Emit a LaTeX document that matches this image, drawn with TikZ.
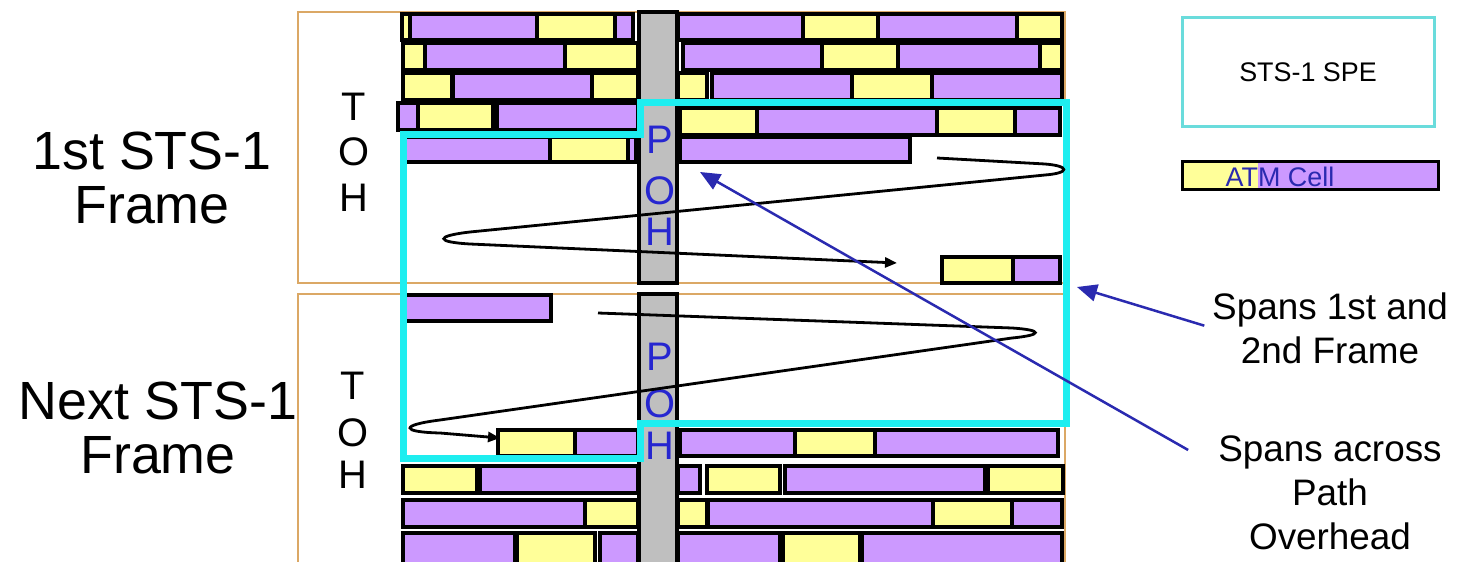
\documentclass[tikz,border=0pt]{standalone}
\usepackage{fontspec}
\setmainfont{Liberation Sans}
\usetikzlibrary{arrows.meta}

\definecolor{roxo}{HTML}{CC99FF}
\definecolor{amarelo}{HTML}{FFFF99}
\definecolor{moldura}{HTML}{DBA865}
\definecolor{ciano}{HTML}{1EEEF0}
\definecolor{cianoleg}{HTML}{6ADCDC}
\definecolor{azul}{HTML}{2A2AB0}
\definecolor{azulpoh}{HTML}{2626D0}
\definecolor{cinza}{HTML}{BFBFBF}

\begin{document}
\begin{tikzpicture}[x=1bp, y=-1bp,
  celula/.style={draw=black, line width=3.5bp},
  letra/.style={font=\fontsize{40}{40}\selectfont, inner sep=0pt},
  rotulo/.style={font=\fontsize{54}{55}\selectfont, align=center, inner sep=0pt},
  nota/.style={font=\fontsize{37}{44}\selectfont, align=center, inner sep=0pt},
  zigue/.style={line width=2.8bp, -{Triangle[length=12bp,width=10bp]}},
  chamada/.style={azul, line width=2.5bp, -{Triangle[length=20bp,width=17bp]}}]

\fill[white] (0,0) rectangle (1459,562);
\useasboundingbox (0,0) rectangle (1459,562);

% Quadros STS-1
\draw[moldura, line width=2bp] (298,12) rectangle (1065,283);
\draw[moldura, line width=2bp] (298,294) rectangle (1065,575);

% Celulas ATM, linha a linha (primeiro quadro)
\foreach \a/\b/\c in {402/410/amarelo, 410/537/roxo, 537/615/amarelo, 615/633/roxo,
                      678/803/roxo, 803/878/amarelo, 878/1017/roxo, 1017/1062/amarelo}
  \draw[celula, fill=\c] (\a,14) rectangle (\b,40);
\foreach \a/\b/\c in {403/425/amarelo, 425/565/roxo, 565/638/amarelo,
                      683/822/roxo, 822/898/amarelo, 898/1040/roxo, 1040/1062/amarelo}
  \draw[celula, fill=\c] (\a,43) rectangle (\b,70);
\foreach \a/\b/\c in {403/452/amarelo, 453/592/roxo, 592/638/amarelo,
                      678/707/amarelo, 712/852/roxo, 852/932/amarelo, 932/1062/roxo}
  \draw[celula, fill=\c] (\a,73) rectangle (\b,100);
\foreach \a/\b/\c in {398/418/roxo, 418/493/amarelo, 497/638/roxo}
  \draw[celula, fill=\c] (\a,103) rectangle (\b,130);
\foreach \a/\b/\c in {680/757/amarelo, 757/937/roxo, 937/1015/amarelo, 1015/1060/roxo}
  \draw[celula, fill=\c] (\a,108) rectangle (\b,135);
\foreach \a/\b/\c in {405/550/roxo, 550/628/amarelo, 628/636/roxo, 680/910/roxo}
  \draw[celula, fill=\c] (\a,137) rectangle (\b,162);
\foreach \a/\b/\c in {942/1013/amarelo, 1013/1060/roxo}
  \draw[celula, fill=\c] (\a,257) rectangle (\b,283);

% Celulas ATM (quadro seguinte)
\draw[celula, fill=roxo] (405,295) rectangle (551,321);
\foreach \a/\b/\c in {498/575/amarelo, 575/638/roxo,
                      680/795/roxo, 795/875/amarelo, 875/1058/roxo}
  \draw[celula, fill=\c] (\a,430) rectangle (\b,456);
\foreach \a/\b/\c in {403/477/amarelo, 480/638/roxo,
                      678/700/roxo, 707/780/amarelo, 785/985/roxo, 988/1063/amarelo}
  \draw[celula, fill=\c] (\a,466) rectangle (\b,493);
\foreach \a/\b/\c in {403/585/roxo, 585/638/amarelo,
                      678/707/amarelo, 708/933/roxo, 933/1012/amarelo, 1012/1062/roxo}
  \draw[celula, fill=\c] (\a,500) rectangle (\b,527);
\foreach \a/\b/\c in {403/515/roxo, 517/595/amarelo, 600/638/roxo,
                      678/780/roxo, 783/860/amarelo, 862/1062/roxo}
  \draw[celula, fill=\c] (\a,533) rectangle (\b,575);

% Coluna POH
\draw[celula, fill=cinza] (639,12) rectangle (677,283);
\draw[celula, fill=cinza] (639,294) rectangle (677,575);

% Letras TOH e POH
\foreach \t/\y in {T/107, O/152, H/198}
  \node[letra] (toha\t) at (354,\y) {\t};
\foreach \t/\y in {T/386, O/433, H/475}
  \node[letra] (tohb\t) at (353,\y) {\t};
\foreach \t/\y in {P/140, O/191, H/232}
  \node[letra, azulpoh] (poha\t) at (660,\y) {\t};
\foreach \t/\y in {P/357, O/404, H/446}
  \node[letra, azulpoh] (pohb\t) at (660,\y) {\t};

% SPE
\draw[ciano, line width=7bp, line join=miter]
  (403,135) -- (640,135) -- (640,103) -- (1066,103) -- (1066,423)
  -- (640,423) -- (640,458) -- (403,458) -- cycle;

% Percurso das celulas
\coordinate (ini1) at (937,158);
\coordinate (fim1) at (897,263);
\draw[zigue] (ini1) -- (1045,164) .. controls (1070,166) and (1070,173) .. (1045,175)
  -- (470,232) .. controls (435,236) and (435,242) .. (470,244) -- (fim1);
\coordinate (ini2) at (598,313);
\coordinate (fim2) at (500,438);
\draw[zigue] (ini2) -- (1012,328) .. controls (1043,330) and (1043,335) .. (1012,338)
  -- (440,420) .. controls (400,425) and (400,432) .. (440,433) -- (fim2);

% Rotulos
\node[rotulo] (quadro1) at (152,178) {1st STS-1\\Frame};
\node[rotulo] (quadro2) at (158,428) {Next STS-1\\Frame};
\node[nota] (frames) at (1330,328) {Spans 1st and\\2nd Frame};
\node[nota] (overhead) at (1330,493) {Spans across\\Path\\Overhead};

% Legenda
\node[draw=cianoleg, line width=3bp, minimum width=252bp, minimum height=109bp,
      font=\fontsize{27}{27}\selectfont] (legspe) at (1308,72) {STS-1 SPE};
\fill[amarelo] (1182,162) rectangle (1258,190);
\fill[roxo] (1258,162) rectangle (1438,190);
\draw[line width=3bp] (1182,162) rectangle (1438,190);
\node[azul, font=\fontsize{27}{27}\selectfont, inner sep=0pt] (legatm) at (1280,177) {ATM Cell};

% Setas
\coordinate (bordaspe) at (1077,287);
\coordinate (setapoh) at (700,172);
\draw[chamada, shorten <=8bp] (frames.west) -- (bordaspe);
\draw[chamada] ([shift={(-30bp,43bp)}]overhead.west) -- (setapoh);

\end{tikzpicture}
\end{document}
